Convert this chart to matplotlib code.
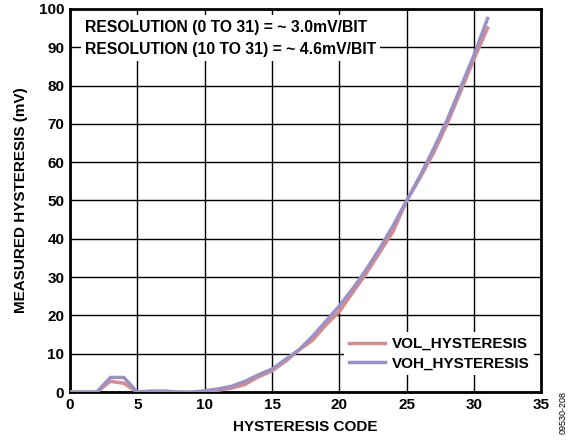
import matplotlib
matplotlib.use("Agg")
import matplotlib.pyplot as plt

plt.rcParams['font.family'] = ['Liberation Sans', 'DejaVu Sans']
plt.rcParams['font.weight'] = 'bold'

# hysteresis code 0..31
codes = list(range(32))
vol_hyst = [0, 0, 0, 2.8, 2.3, 0, 0.2, 0.2, 0, -0.2, 0, 0.5, 1.0, 2.0, 4.0, 5.5,
            8, 11, 13.5, 17.5, 21, 26, 31, 36.5, 42, 50, 56, 62.5, 70, 78.5, 87, 95]
voh_hyst = [0, 0, 0, 3.8, 3.8, 0, 0.2, 0.2, 0, 0, 0.3, 0.8, 1.5, 2.8, 4.5, 6,
            8.5, 11, 14.5, 18.5, 22.5, 27, 32, 37.5, 43.5, 50, 56.5, 63.5, 71, 79.5, 88, 97.5]

xticks = [0, 5, 10, 15, 20, 25, 30, 35]
yticks = [0, 10, 20, 30, 40, 50, 60, 70, 80, 90, 100]

fig = plt.figure(figsize=(5.73, 4.44), dpi=100)
ax = fig.add_axes([0.122, 0.117, 0.823, 0.863])

ax.plot(codes, vol_hyst, color='#d98b8b', lw=2.5, label='VOL_HYSTERESIS', zorder=3)
ax.plot(codes, voh_hyst, color='#9a92c6', lw=2.5, label='VOH_HYSTERESIS', zorder=3)

ax.set_xlim(0, 35)
ax.set_ylim(0, 100)
ax.set_xticks(xticks)
ax.set_yticks(yticks)
ax.grid(True, color='black', lw=1.0)
ax.tick_params(direction='in', length=0, labelsize=11, pad=4)
for s in ax.spines.values():
    s.set_linewidth(2)

ax.set_xlabel('HYSTERESIS CODE', fontsize=11, fontweight='bold', labelpad=6)
ax.set_ylabel('MEASURED HYSTERESIS (mV)', fontsize=11, fontweight='bold', labelpad=8)

ax.text(0.032, 0.972, 'RESOLUTION (0 TO 31) = ~ 3.0mV/BIT\nRESOLUTION (10 TO 31) = ~ 4.6mV/BIT',
        transform=ax.transAxes, ha='left', va='top', fontsize=11.3, fontweight='bold',
        linespacing=1.6, zorder=4,
        bbox=dict(facecolor='white', edgecolor='none', pad=3))

leg = ax.legend(loc='lower right', bbox_to_anchor=(1.0, 0.025), frameon=True,
                fontsize=11, handlelength=2.4, borderpad=0.3, labelspacing=0.35,
                handletextpad=0.4, fancybox=False)
leg.get_frame().set_edgecolor('none')
leg.get_frame().set_facecolor('white')
leg.get_frame().set_alpha(1)

fig.text(0.983, 0.072, '09530-208', rotation=90, fontsize=6.5, fontweight='normal',
         ha='center', va='center')

fig.savefig('out.png', dpi=100)
